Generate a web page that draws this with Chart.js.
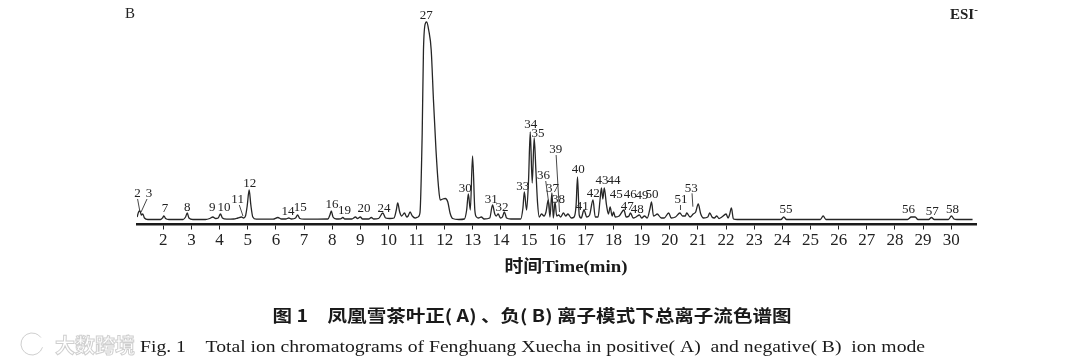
<!DOCTYPE html>
<html>
<head>
<meta charset="utf-8">
<script src="https://cdn.jsdelivr.net/npm/chart.js@4.4.1/dist/chart.umd.min.js"></script>
<style>
html,body{margin:0;padding:0;background:#fff;}
#wrap{width:1080px;height:360px;position:relative;}
</style>
</head>
<body>
<div id="wrap"><canvas id="c"></canvas></div>
<script>
// ---- retention time (min) of the trace ----
const traceTime = [
  1.07, 1.12, 1.17, 1.22, 1.27, 1.33, 1.45,
  1.9, 1.97, 2.02, 2.08, 2.2,
  2.7, 2.79, 2.85, 2.91, 3.05,
  3.5, 3.65, 3.76, 3.86, 3.95, 4.03, 4.1, 4.25,
  4.5, 4.65, 4.78, 4.85, 4.92, 4.98, 5.05, 5.11, 5.18, 5.3,
  5.9, 6.07, 6.2, 6.35, 6.46, 6.55, 6.7, 6.77, 6.85, 7.0,
  7.85, 7.92, 7.97, 8.03, 8.15, 8.3, 8.38, 8.45, 8.7, 8.83, 8.9, 9.0, 9.08, 9.3, 9.39, 9.48, 9.65, 9.8, 9.9,
  10.05, 10.2, 10.28, 10.33, 10.4, 10.47, 10.57, 10.65, 10.7, 10.77, 10.85, 10.95, 11.05, 11.12,
  11.2, 11.245, 11.32, 11.36, 11.43, 11.52, 11.6, 11.69, 11.78, 11.84, 11.93, 12.02, 12.11, 12.19, 12.28, 12.5,
  12.7, 12.78, 12.84, 12.91, 12.99, 13.07, 13.13, 13.2, 13.3, 13.4,
  13.6, 13.7, 13.78, 13.83, 13.9, 13.98, 14.05, 14.12, 14.2, 14.35,
  14.7, 14.78, 14.83, 14.91, 14.98, 15.04, 15.11, 15.18, 15.24, 15.3, 15.36,
  15.44, 15.53, 15.6, 15.68, 15.74, 15.81, 15.86, 15.92, 15.98, 16.05, 16.12, 16.22, 16.3, 16.38, 16.5, 16.6,
  16.67, 16.72, 16.78, 16.85, 16.95, 17.05, 17.15, 17.27, 17.35, 17.45,
  17.52, 17.57, 17.62, 17.67, 17.75, 17.82, 17.88, 17.95, 18.0, 18.06, 18.2, 18.37, 18.45, 18.55, 18.6, 18.7, 18.8, 18.92, 19.0, 19.1, 19.2, 19.3, 19.35, 19.42, 19.5, 19.55, 19.7, 19.8,
  19.96, 20.05, 20.2, 20.36, 20.45, 20.55, 20.6, 20.72, 20.83, 20.92, 21.01, 21.1, 21.2, 21.35, 21.42, 21.5, 21.58, 21.67, 21.75, 21.85, 22.0, 22.07, 22.12, 22.19, 22.26, 22.4,
  23.95, 24.05, 24.15, 25.35, 25.45, 25.55, 28.45, 28.58, 28.72, 28.82, 29.2, 29.3, 29.4, 29.9, 30.01, 30.1, 30.2, 30.76
];
// ---- relative ion intensity of the trace ----
const traceIntensity = [
  3, 8, 9, 5, 6, 2, 0.5,
  0.5, 2, 4, 1.5, 0.5,
  0.5, 3, 7, 2, 0.5,
  0.5, 1.5, 3, 1.5, 2, 6, 2, 0.8,
  1, 2, 3, 2, 4, 14, 30, 15, 3, 0.8,
  0.8, 2.5, 1, 1, 2, 1, 2, 5, 1.5, 0.8,
  1, 5, 9, 3, 1, 1.2, 2.5, 1, 1, 3, 1.5, 3, 1, 1, 2.5, 1, 1.5, 7, 2,
  1.5, 2, 10, 17, 8, 4, 7, 3, 4, 8, 4, 2, 3, 7,
  87, 170, 197, 198, 190, 170, 120, 70, 33, 20, 21, 21.5, 18, 7, 1.5, 0.5,
  1, 10, 26, 10, 64, 10, 3, 2, 3, 1,
  2, 15, 6, 4, 6, 2, 3, 8, 2, 1,
  1, 12, 28, 10, 40, 88, 37, 82, 50, 17, 3,
  6, 4, 8, 20, 3, 27, 2, 18, 4, 5, 3, 7, 4, 6, 2, 3,
  15, 43, 5, 2, 10, 3, 5, 20, 3, 3,
  20, 32, 21, 32, 15, 6, 13, 4, 8, 3, 4, 10, 3, 4, 7, 2, 3, 5, 2, 4, 2, 12, 18, 4, 5, 6, 2, 2,
  7, 2, 3, 7, 4, 4, 7, 3, 6, 8, 16, 6, 2, 3, 7, 3, 2, 4, 1.5, 3, 6, 2, 5, 12, 1, 0.5,
  0.5, 3, 0.5, 0.5, 4, 0.5, 0.5, 3, 3, 0.5, 0.5, 2.5, 0.5, 0.5, 4, 1, 0.5, 0.5
];
// ---- peak numbers and where their labels sit (time, intensity) ----
const peakLabels = ["2","3","7","8","9","10","11","12","14","15","16","19","20","24","27","30","31","32","33","34","35","36","37","38","39","40","41","42","43","44","45","46","47","48","49","50","51","53","55","56","57","58"];
const peakLabelTime = [1.08,1.49,2.06,2.85,3.74,4.16,4.64,5.07,6.43,6.87,7.99,8.44,9.13,9.84,11.34,12.73,13.65,14.04,14.77,15.06,15.32,15.51,15.83,16.04,15.95,16.75,16.89,17.28,17.59,18.02,18.10,18.59,18.49,18.84,19.01,19.37,20.40,20.76,24.13,28.48,29.33,30.05];
const peakLabelIntensity = [26.7,26.7,11,12.7,12.7,12.7,20.7,36.7,8.3,12.3,15.7,9.3,11,11,204.3,31.7,20.7,12.3,33.3,95,86,44,31.7,20,70,50,13.3,26.7,39,39,25,25,13.3,10,24,25,20,31.7,10,10,8.3,10.7];
// ---- leader lines from labels to peaks ----
const leaderFromTime = [1.085, 1.42, 4.70, 15.59, 15.96, 20.79, 20.38];
const leaderFromIntensity = [21, 21, 15, 39, 65, 26.7, 15];
const leaderToTime = [1.17, 1.21, 4.83, 15.75, 16.08, 20.82, 20.38];
const leaderToIntensity = [8, 8, 4, 6, 8, 13.3, 10];
// ---- axis ticks ----
const tickValues = [2,3,4,5,6,7,8,9,10,11,12,13,14,15,16,17,18,19,20,21,22,23,24,25,26,27,28,29,30];

const SERIF = '"Liberation Serif", "DejaVu Serif", serif';

function fitText(ctx, text, x, y, width, align) {
  const w = ctx.measureText(text).width;
  const s = width / w;
  ctx.save();
  let left = x;
  if (align === 'center') left = x - width / 2;
  ctx.translate(left, y);
  ctx.scale(s, 1);
  ctx.textAlign = 'left';
  ctx.fillText(text, 0, 0);
  ctx.restore();
}

const annotate = {
  id: 'annotate',
  afterDatasetsDraw(chart) {
    const ctx = chart.ctx, xs = chart.scales.x, ys = chart.scales.y;
    ctx.save();
    // leader lines
    ctx.strokeStyle = '#333';
    ctx.lineWidth = 0.9;
    for (let i = 0; i < leaderFromTime.length; i++) {
      ctx.beginPath();
      ctx.moveTo(xs.getPixelForValue(leaderFromTime[i]), ys.getPixelForValue(leaderFromIntensity[i]));
      ctx.lineTo(xs.getPixelForValue(leaderToTime[i]), ys.getPixelForValue(leaderToIntensity[i]));
      ctx.stroke();
    }
    // peak labels
    ctx.fillStyle = '#222';
    ctx.font = '13px ' + SERIF;
    ctx.textAlign = 'center';
    ctx.textBaseline = 'middle';
    peakLabels.forEach((lab, i) => {
      ctx.fillText(lab, xs.getPixelForValue(peakLabelTime[i]), ys.getPixelForValue(peakLabelIntensity[i]));
    });
    ctx.restore();
  },
  afterDraw(chart) {
    const ctx = chart.ctx;
    ctx.save();
    ctx.fillStyle = '#222';
    ctx.textBaseline = 'middle';
    // panel letter
    ctx.font = '15px ' + SERIF;
    ctx.textAlign = 'left';
    ctx.fillText('B', 125, 14);
    // ESI-
    ctx.font = 'bold 15px ' + SERIF;
    ctx.fillText('ESI', 950, 15);
    const w = ctx.measureText('ESI').width;
    ctx.font = 'bold 11px ' + SERIF;
    ctx.fillText('-', 950 + w, 10);
    // axis title
    ctx.font = 'bold 17px ' + SERIF + ', "Noto Sans CJK SC"';
    ctx.textAlign = 'center';
    ctx.fillStyle = '#1a1a1a';
    fitText(ctx, '时间Time(min)', 566, 268, 123, 'center');
    // caption
    ctx.font = 'bold 17px "Noto Sans CJK SC"';
    fitText(ctx, '图 1　凤凰雪茶叶正( A) 、负( B) 离子模式下总离子流色谱图', 532, 316, 519, 'center');
    ctx.font = '17px ' + SERIF;
    fitText(ctx, 'Fig. 1    Total ion chromatograms of Fenghuang Xuecha in positive( A)  and negative( B)  ion mode', 140, 348, 785, 'left');
    // watermark
    ctx.font = 'bold 20px "Noto Sans CJK SC"';
    ctx.textAlign = 'left';
    ctx.lineWidth = 1;
    ctx.strokeStyle = 'rgba(160,160,160,0.5)';
    ctx.strokeText('大数跨境', 55, 345);
    ctx.beginPath();
    ctx.arc(32, 344, 11, 0.3, Math.PI * 1.8);
    ctx.stroke();
    ctx.restore();
  }
};

new Chart(document.getElementById('c'), {
  type: 'line',
  data: {
    datasets: [{
      data: traceTime.map((t, i) => ({ x: t, y: traceIntensity[i] })),
      borderColor: '#262626',
      borderWidth: 1.3,
      pointRadius: 0,
      fill: false,
      cubicInterpolationMode: 'monotone'
    }]
  },
  options: {
    responsive: true,
    maintainAspectRatio: false,
    animation: false,
    events: [],
    layout: { padding: { left: 137, right: 103.5, top: 10, bottom: 0 } },
    plugins: { legend: { display: false }, tooltip: { enabled: false } },
    scales: {
      x: {
        type: 'linear',
        min: 1.064,
        max: 30.9,
        afterBuildTicks(scale) { scale.ticks = tickValues.map(v => ({ value: v })); },
        afterFit(scale) { scale.height = 135.5; },
        grid: { display: true, drawOnChartArea: false, drawTicks: true, tickLength: 5, color: '#222', lineWidth: 1 },
        border: { display: true, color: '#1a1a1a', width: 2.5 },
        ticks: { autoSkip: false, maxRotation: 0, padding: 1, color: '#222', font: { family: SERIF, size: 17 } }
      },
      y: {
        display: false,
        min: -4.5,
        max: 210
      }
    }
  },
  plugins: [annotate]
});
</script>
</body>
</html>
